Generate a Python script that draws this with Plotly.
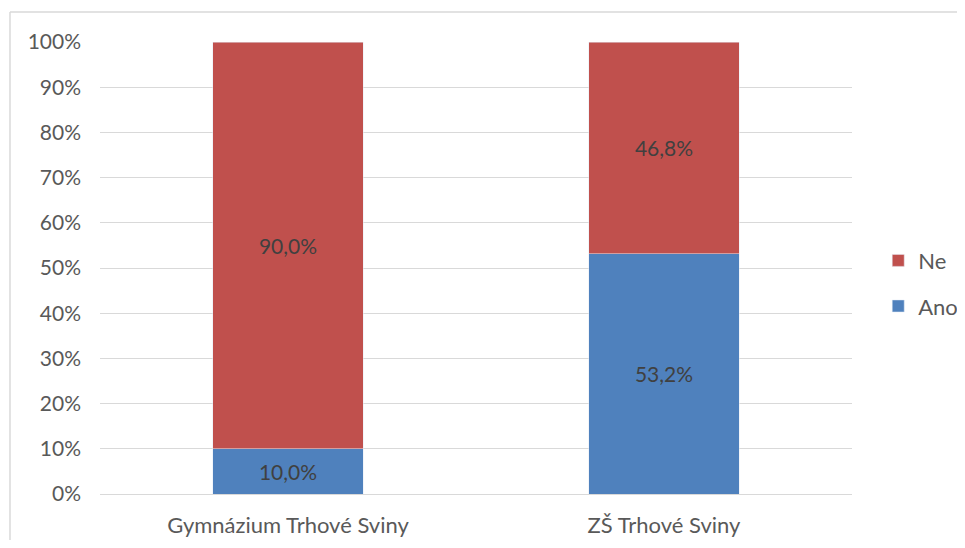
import plotly.graph_objects as go


skoly = ["Gymnázium Trhové Sviny", "ZŠ Trhové Sviny"]
ano = [10.0, 53.2]
ne = [90.0, 46.8]
ano_text = ["10,0%", "53,2%"]
ne_text = ["90,0%", "46,8%"]
y_ticks = [0, 10, 20, 30, 40, 50, 60, 70, 80, 90, 100]
y_labels = ["0%", "10%", "20%", "30%", "40%", "50%", "60%", "70%", "80%", "90%", "100%"]


fig = go.Figure()

fig.add_trace(
    go.Bar(
        x=skoly,
        y=ano,
        name="Ano",
        legendgroup="ano",
        legendrank=2,
        marker_color="#4F81BD",
        text=ano_text,
        textposition="inside",
        insidetextanchor="middle",
        textfont=dict(color="#404040", size=21),
        width=0.4
    )
)

fig.add_trace(
    go.Bar(
        x=skoly,
        y=ne,
        name="Ne",
        legendgroup="ne",
        legendrank=1,
        marker_color="#C0504D",
        text=ne_text,
        textposition="inside",
        insidetextanchor="middle",
        textfont=dict(color="#404040", size=21),
        width=0.4
    )
)

fig.update_layout(
    barmode="stack",
    width=949,
    height=532,
    margin=dict(l=92, r=105, t=34, b=46, autoexpand=False),
    paper_bgcolor="white",
    plot_bgcolor="white",
    font=dict(family="Lato", size=21, color="#595959"),
    showlegend=True,
    legend=dict(
        xref="container",
        yref="container",
        x=0.917,
        y=0.482,
        xanchor="left",
        yanchor="middle",
        traceorder="grouped",
        font=dict(size=22, color="#595959"),
        itemwidth=30,
        tracegroupgap=14
    ),
    uniformtext=dict(mode="show", minsize=21),
    shapes=[
        dict(
            type="line", xref="paper", yref="paper",
            x0=-0.1197, x1=-0.1197, y0=1.0664, y1=-0.2,
            line=dict(color="#D9D9D9", width=1.5)
        ),
        dict(
            type="line", xref="paper", yref="paper",
            x0=-0.1197, x1=1.2, y0=1.0664, y1=1.0664,
            line=dict(color="#D9D9D9", width=1.5)
        ),
    ]
)

fig.update_yaxes(
    range=[0, 100],
    tickvals=y_ticks,
    ticktext=y_labels,
    showgrid=True,
    gridcolor="#D9D9D9",
    gridwidth=1,
    zeroline=False,
    showline=False,
    ticks="",
    ticklabelstandoff=18,
    automargin=False
)

fig.update_xaxes(
    showline=True,
    linecolor="#D9D9D9",
    linewidth=1,
    ticks="",
    tickfont=dict(size=22),
    ticklabelstandoff=12,
    automargin=False
)

fig.write_html("out.html")
